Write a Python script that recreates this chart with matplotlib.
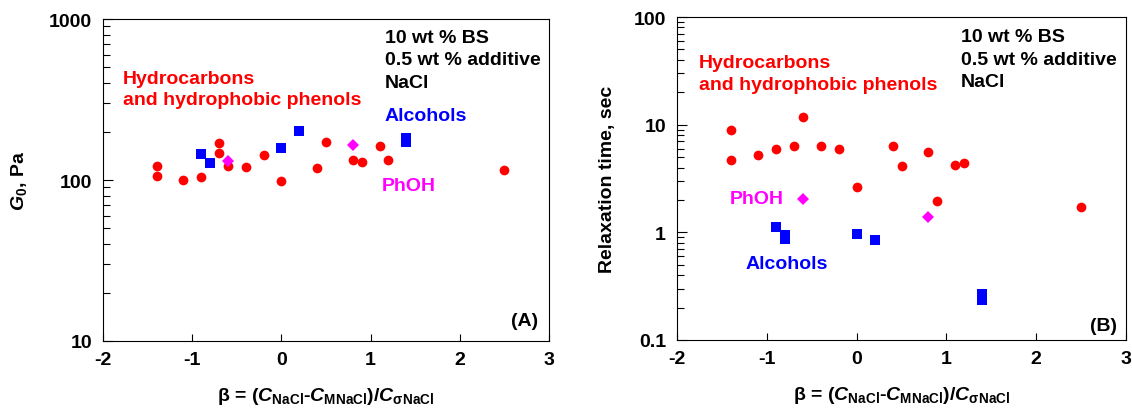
import numpy as np
import matplotlib
matplotlib.use("Agg")
import matplotlib.pyplot as plt
from matplotlib.ticker import LogLocator, NullFormatter, FixedLocator, FuncFormatter

plt.rcParams["font.family"] = ["Liberation Sans", "DejaVu Sans"]
plt.rcParams["font.weight"] = "bold"
plt.rcParams["axes.unicode_minus"] = False
plt.rcParams["mathtext.fontset"] = "custom"
plt.rcParams["mathtext.rm"] = "Liberation Sans:bold"
plt.rcParams["mathtext.it"] = "Liberation Sans:italic:bold"
plt.rcParams["mathtext.bf"] = "Liberation Sans:bold"

# Data: panel A (plateau modulus)
hc_beta_a = [-1.4, -1.4, -1.1, -0.9, -0.7, -0.7, -0.6, -0.4, -0.2, 0.0, 0.4, 0.5, 0.8, 0.9, 1.1, 1.2, 2.5]
hc_g0 = [122, 106, 100, 104, 170, 148, 123, 120, 142, 99, 118, 172, 134, 129, 163, 133, 116]
alc_beta_a = [-0.9, -0.8, 0.0, 0.2, 1.4, 1.4]
alc_g0 = [145, 128, 157, 202, 183, 172]
phoh_beta_a = [-0.6, 0.8]
phoh_g0 = [132, 166]

# Data: panel B (relaxation time)
hc_beta_b = [-1.4, -1.4, -1.1, -0.9, -0.7, -0.6, -0.4, -0.2, 0.0, 0.4, 0.5, 0.8, 0.9, 1.1, 1.2, 2.5]
hc_tau = [8.9, 4.7, 5.2, 5.9, 6.3, 11.9, 6.4, 6.0, 2.66, 6.4, 4.1, 5.6, 1.97, 4.25, 4.44, 1.73]
alc_beta_b = [-0.9, -0.8, -0.8, 0.0, 0.2, 1.4, 1.4]
alc_tau = [1.11, 0.94, 0.86, 0.97, 0.84, 0.268, 0.236]
phoh_beta_b = [-0.6, 0.8]
phoh_tau = [2.03, 1.38]

xticks = [-2, -1, 0, 1, 2, 3]
xlabel = r"β = ($C_{\mathrm{NaCl}}$-$C_{\mathrm{MNaCl}}$)/$C_{\mathrm{σNaCl}}$"
cond_text = "10 wt % BS\n0.5 wt % additive\nNaCl"
FS = 14

fig = plt.figure(figsize=(11.32, 4.14), dpi=100)
axA = fig.add_axes([103 / 1132, 1 - 342 / 414, 446 / 1132, 322 / 414])
axB = fig.add_axes([677 / 1132, 1 - 341 / 414, 449 / 1132, 323 / 414])


def style(ax, ylim):
    ax.set_yscale("log")
    ax.set_xlim(-2, 3)
    ax.set_ylim(*ylim)
    ax.xaxis.set_major_locator(FixedLocator(xticks))
    ax.yaxis.set_major_locator(LogLocator(base=10))
    ax.yaxis.set_major_formatter(FuncFormatter(lambda v, p: "%g" % v))
    ax.yaxis.set_minor_locator(LogLocator(base=10, subs=np.arange(2, 10)))
    ax.yaxis.set_minor_formatter(NullFormatter())
    ax.tick_params(which="both", direction="in", top=False, right=False,
                   labelsize=FS, width=0.8)
    ax.tick_params(axis="y", which="major", length=7, pad=8)
    ax.tick_params(axis="y", which="minor", length=5)
    ax.tick_params(axis="x", which="major", length=5, pad=7)
    for s in ax.spines.values():
        s.set_linewidth(0.8)
    ax.set_xlabel(xlabel, fontsize=FS, fontweight="bold")
    ax.xaxis.set_label_coords(0.5, -0.137)


def points(ax, hx, hy, ax_, ay, px, py):
    ax.plot(hx, hy, "o", color="#ff0000", markersize=7, markeredgewidth=0, zorder=3)
    ax.plot(ax_, ay, "s", color="#0000ff", markersize=7, markeredgewidth=0, zorder=3)
    ax.plot(px, py, "D", color="#ff00ff", markersize=6.5, markeredgewidth=0, zorder=3)


# Panel A
style(axA, (10, 1000))
points(axA, hc_beta_a, hc_g0, alc_beta_a, alc_g0, phoh_beta_a, phoh_g0)
axA.set_ylabel(r"$G_0$, Pa", fontsize=FS, fontweight="bold")
axA.yaxis.set_label_coords(-0.165, 0.5)
axA.text(0.632, 0.970, cond_text, transform=axA.transAxes, fontsize=FS,
         fontweight="bold", va="top", linespacing=1.42)
axA.text(0.044, 0.783, "Hydrocarbons\nand hydrophobic phenols", transform=axA.transAxes,
         fontsize=FS, color="#ff0000", va="center", linespacing=1.32)
axA.text(0.631, 0.700, "Alcohols", transform=axA.transAxes, fontsize=FS,
         color="#0000ff", va="center")
axA.text(0.624, 0.482, "PhOH", transform=axA.transAxes, fontsize=FS,
         color="#ff00ff", va="center")
axA.text(0.975, 0.063, "(A)", transform=axA.transAxes, fontsize=FS,
         ha="right", va="center")

# Panel B
style(axB, (0.1, 100))
points(axB, hc_beta_b, hc_tau, alc_beta_b, alc_tau, phoh_beta_b, phoh_tau)
axB.set_ylabel("Relaxation time, sec", fontsize=FS, fontweight="bold")
axB.yaxis.set_label_coords(-0.135, 0.5)
axB.text(0.633, 0.965, cond_text, transform=axB.transAxes, fontsize=FS,
         fontweight="bold", va="top", linespacing=1.42)
axB.text(0.049, 0.825, "Hydrocarbons\nand hydrophobic phenols", transform=axB.transAxes,
         fontsize=FS, color="#ff0000", va="center", linespacing=1.32)
axB.text(0.118, 0.439, "PhOH", transform=axB.transAxes, fontsize=FS,
         color="#ff00ff", va="center")
axB.text(0.153, 0.238, "Alcohols", transform=axB.transAxes, fontsize=FS,
         color="#0000ff", va="center")
axB.text(0.98, 0.045, "(B)", transform=axB.transAxes, fontsize=FS,
         ha="right", va="center")

fig.savefig("out.png", dpi=100)
